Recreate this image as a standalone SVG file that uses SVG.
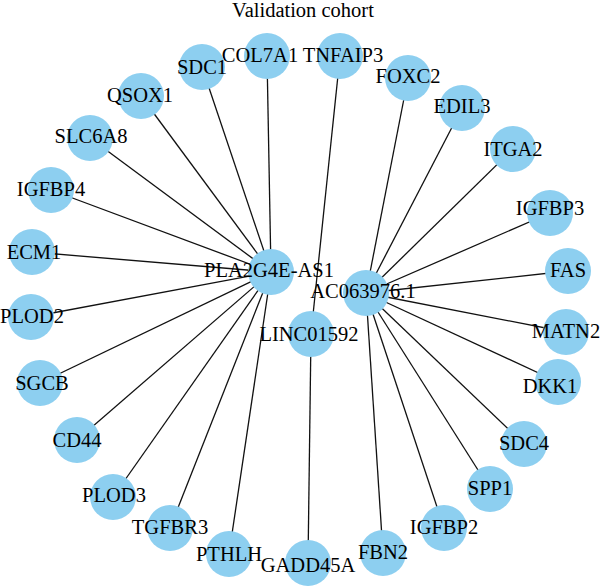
<svg xmlns="http://www.w3.org/2000/svg" width="600" height="588" viewBox="0 0 600 588">
<style>
.n{fill:#8DCFF0}
.t{font-family:"Liberation Serif","Times New Roman",serif;font-size:20.5px;fill:#000;text-anchor:middle}
#edges line{stroke:#111;stroke-width:1.3}
</style>
<rect width="600" height="588" fill="#fff"/>
<text class="t" x="303" y="17">Validation cohort</text>
<g id="edges">
<line x1="271" y1="272" x2="267" y2="56"/>
<line x1="271" y1="272" x2="202" y2="67"/>
<line x1="271" y1="272" x2="141" y2="96"/>
<line x1="271" y1="272" x2="90" y2="138"/>
<line x1="271" y1="272" x2="51" y2="190"/>
<line x1="271" y1="272" x2="32" y2="252"/>
<line x1="271" y1="272" x2="31" y2="317"/>
<line x1="271" y1="272" x2="40" y2="383"/>
<line x1="271" y1="272" x2="77" y2="440"/>
<line x1="271" y1="272" x2="113" y2="497"/>
<line x1="271" y1="272" x2="170" y2="528"/>
<line x1="271" y1="272" x2="229" y2="554"/>
<line x1="340" y1="56" x2="311" y2="334"/>
<line x1="311" y1="334" x2="308" y2="563"/>
<line x1="366" y1="293" x2="408" y2="78"/>
<line x1="366" y1="293" x2="462" y2="108"/>
<line x1="366" y1="293" x2="513" y2="149"/>
<line x1="366" y1="293" x2="550" y2="213"/>
<line x1="366" y1="293" x2="568" y2="271"/>
<line x1="366" y1="293" x2="566" y2="332"/>
<line x1="366" y1="293" x2="558" y2="382"/>
<line x1="366" y1="293" x2="524" y2="444"/>
<line x1="366" y1="293" x2="490" y2="489"/>
<line x1="366" y1="293" x2="444" y2="528"/>
<line x1="366" y1="293" x2="383" y2="553"/>
</g>
<g id="COL7A1"><circle class="n" cx="267" cy="56" r="23"/><text class="t" x="260" y="62">COL7A1</text></g>
<g id="SDC1"><circle class="n" cx="202" cy="67" r="23"/><text class="t" x="202" y="74">SDC1</text></g>
<g id="QSOX1"><circle class="n" cx="141" cy="96" r="23"/><text class="t" x="140" y="102">QSOX1</text></g>
<g id="SLC6A8"><circle class="n" cx="90" cy="138" r="23"/><text class="t" x="91" y="143">SLC6A8</text></g>
<g id="IGFBP4"><circle class="n" cx="51" cy="190" r="23"/><text class="t" x="51" y="196">IGFBP4</text></g>
<g id="ECM1"><circle class="n" cx="32" cy="252" r="23"/><text class="t" x="34" y="259">ECM1</text></g>
<g id="PLOD2"><circle class="n" cx="31" cy="317" r="23"/><text class="t" x="32" y="323">PLOD2</text></g>
<g id="SGCB"><circle class="n" cx="40" cy="383" r="23"/><text class="t" x="42" y="390">SGCB</text></g>
<g id="CD44"><circle class="n" cx="77" cy="440" r="23"/><text class="t" x="77" y="447">CD44</text></g>
<g id="PLOD3"><circle class="n" cx="113" cy="497" r="23"/><text class="t" x="114" y="502">PLOD3</text></g>
<g id="TGFBR3"><circle class="n" cx="170" cy="528" r="23"/><text class="t" x="170" y="534">TGFBR3</text></g>
<g id="PTHLH"><circle class="n" cx="229" cy="554" r="23"/><text class="t" x="229" y="561">PTHLH</text></g>
<g id="GADD45A"><circle class="n" cx="308" cy="563" r="23"/><text class="t" x="308" y="572">GADD45A</text></g>
<g id="FBN2"><circle class="n" cx="383" cy="553" r="23"/><text class="t" x="383" y="559">FBN2</text></g>
<g id="IGFBP2"><circle class="n" cx="444" cy="528" r="23"/><text class="t" x="444" y="534">IGFBP2</text></g>
<g id="SPP1"><circle class="n" cx="490" cy="489" r="23"/><text class="t" x="490" y="495">SPP1</text></g>
<g id="SDC4"><circle class="n" cx="524" cy="444" r="23"/><text class="t" x="524" y="450">SDC4</text></g>
<g id="DKK1"><circle class="n" cx="558" cy="382" r="23"/><text class="t" x="550" y="393">DKK1</text></g>
<g id="MATN2"><circle class="n" cx="566" cy="332" r="23"/><text class="t" x="566" y="338">MATN2</text></g>
<g id="FAS"><circle class="n" cx="568" cy="271" r="23"/><text class="t" x="568" y="277">FAS</text></g>
<g id="IGFBP3"><circle class="n" cx="550" cy="213" r="23"/><text class="t" x="550" y="215">IGFBP3</text></g>
<g id="ITGA2"><circle class="n" cx="513" cy="149" r="23"/><text class="t" x="513" y="156">ITGA2</text></g>
<g id="EDIL3"><circle class="n" cx="462" cy="108" r="23"/><text class="t" x="462" y="113">EDIL3</text></g>
<g id="FOXC2"><circle class="n" cx="408" cy="78" r="23"/><text class="t" x="408" y="83">FOXC2</text></g>
<g id="TNFAIP3"><circle class="n" cx="340" cy="56" r="23"/><text class="t" x="343" y="62">TNFAIP3</text></g>
<g id="PLA2G4E-AS1"><circle class="n" cx="271" cy="272" r="23"/><text class="t" x="269" y="277">PLA2G4E-AS1</text></g>
<g id="AC063976.1"><circle class="n" cx="366" cy="293" r="23"/><text class="t" x="363" y="298">AC063976.1</text></g>
<g id="LINC01592"><circle class="n" cx="311" cy="334" r="23"/><text class="t" x="309" y="341">LINC01592</text></g>
</svg>
